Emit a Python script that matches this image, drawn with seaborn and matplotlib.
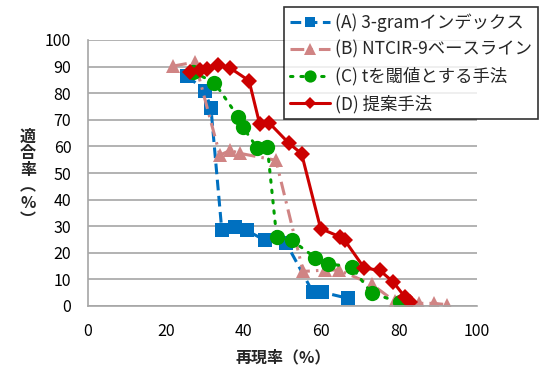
import matplotlib
matplotlib.use("Agg")
import matplotlib.pyplot as plt
import seaborn as sns
import pandas as pd

# ---- data ----
a_x = [25.5, 30.0, 31.6, 34.4, 37.8, 40.8, 45.5, 51.0, 57.8, 60.2, 66.8]
a_y = [86.5, 81.0, 74.5, 28.4, 29.8, 28.4, 24.7, 23.5, 5.2, 5.2, 2.9]

b_x = [21.9, 27.5, 33.9, 36.5, 39.0, 48.3, 55.3, 61.0, 64.5, 72.9, 78.9, 85.0, 88.9, 92.3]
b_y = [90.2, 91.7, 56.7, 58.5, 57.4, 54.8, 13.0, 13.5, 13.5, 8.2, 1.7, 1.0, 1.0, 0.5]

c_x = [27.0, 32.5, 38.6, 39.8, 43.5, 46.1, 48.5, 52.4, 58.4, 61.8, 67.8, 72.9, 80.2]
c_y = [88.0, 84.0, 71.1, 67.3, 59.4, 59.8, 25.9, 24.7, 18.2, 15.9, 14.6, 4.8, 1.4]

d_x = [26.3, 28.8, 30.5, 33.5, 36.5, 41.4, 44.1, 46.6, 51.7, 54.9, 59.8, 64.8, 66.0,
       71.0, 75.0, 78.5, 81.5, 82.8]
d_y = [88.0, 88.7, 89.0, 90.6, 89.5, 84.7, 68.6, 68.8, 61.1, 57.3, 29.1, 26.0, 24.7,
       14.3, 13.4, 9.0, 3.3, 1.4]

labels = ["(A) 3-gramインデックス", "(B) NTCIR-9ベースライン", "(C) tを閾値とする手法", "(D) 提案手法"]
x_ticks = [0, 20, 40, 60, 80, 100]
y_ticks = [0, 10, 20, 30, 40, 50, 60, 70, 80, 90, 100]
x_label = "再現率（%）"
y_label = "適合率︵%︶"

sns.set_style("white")
plt.rcParams['font.family'] = ['Noto Sans CJK JP', 'DejaVu Sans']

fig = plt.figure(figsize=(5.48, 3.76), dpi=100)
ax = fig.add_axes([88/548, 1-306/376, (477-88)/548, (306-40)/376])

styles = [
    dict(color="#0070C0", marker="s", markersize=9.5, linestyle=(0, (3.5, 1.8)), linewidth=2.2),
    dict(color="#D08484", marker="^", markersize=10, linestyle=(0, (4.5, 2, 0.8, 2)), linewidth=2.2),
    dict(color="#00A000", marker="o", markersize=11, linestyle=(0, (0.8, 2.6)), linewidth=2.2,
         dash_capstyle="round"),
    dict(color="#CC0000", marker="D", markersize=8, linestyle="-", linewidth=2.2),
]
series = [(a_x, a_y), (b_x, b_y), (c_x, c_y), (d_x, d_y)]
for (xs, ys), lab, st in zip(series, labels, styles):
    df = pd.DataFrame({"x": xs, "y": ys})
    sns.lineplot(data=df, x="x", y="y", ax=ax, sort=False, estimator=None,
                 label=lab, markeredgewidth=0, **st)

ax.set_xlim(0, 100)
ax.set_ylim(0, 100)
ax.set_xticks(x_ticks)
ax.set_yticks(y_ticks)
ax.yaxis.grid(True, color="#A6A6A6", linewidth=1.2)
ax.xaxis.grid(False)
for s in ["top", "right"]:
    ax.spines[s].set_visible(False)
for s in ["left", "bottom"]:
    ax.spines[s].set_color("#A6A6A6")
    ax.spines[s].set_linewidth(1.2)
ax.tick_params(axis="both", direction="out", length=5, width=1.2, color="#A6A6A6",
               labelsize=11.5, labelcolor="black", pad=7)
ax.tick_params(axis="x", pad=7)
ax.set_xlabel("")
ax.set_ylabel("")

fig.text(283/548, 1-357/376, x_label, ha="center", va="center", fontsize=11.5, fontweight="bold")
fig.text(28/548, 1-178/376, "\n".join(y_label), ha="center", va="center", fontsize=11.5,
         fontweight="bold", linespacing=1.05)

leg = ax.legend(loc="upper left", bbox_to_anchor=(284/548, 1-7/376), bbox_transform=fig.transFigure,
                borderaxespad=0, frameon=True, fancybox=False, edgecolor="black", fontsize=12.5,
                handlelength=2.3, handletextpad=0.3, labelspacing=0.5, borderpad=0.35,
                numpoints=1, markerscale=0.8)
leg.get_frame().set_linewidth(1.2)

fig.savefig("out.png", dpi=100)
